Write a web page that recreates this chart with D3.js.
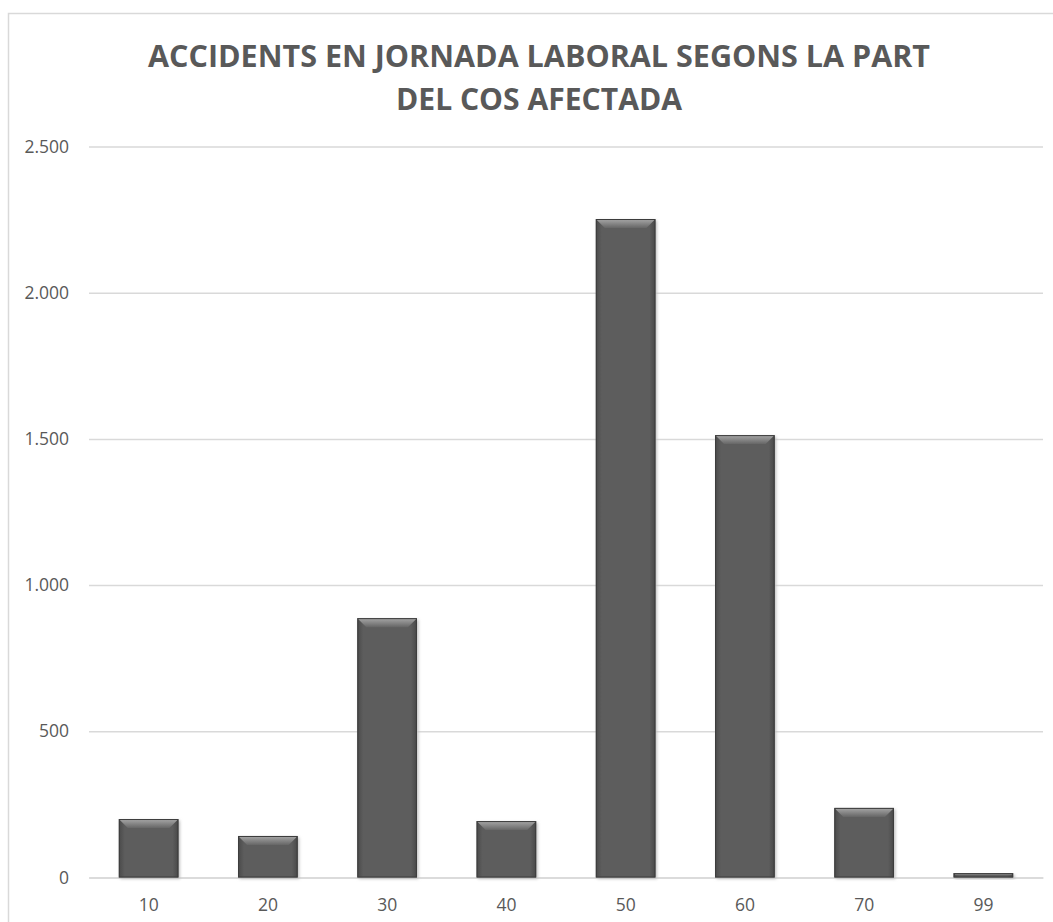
<!DOCTYPE html>
<html>
<head>
<meta charset="utf-8">
<script src="https://cdn.jsdelivr.net/npm/d3@7"></script>
<style>
  body { margin: 0; background: #fff; }
  text { font-family: "Open Sans", "DejaVu Sans", sans-serif; }
</style>
</head>
<body>
<div id="chart"></div>
<script>
// data
let categories = ["10", "20", "30", "40", "50", "60", "70", "99"];
let accidents = [200, 142, 887, 193, 2252, 1513, 238, 15];
let yTicks = [0, 500, 1000, 1500, 2000, 2500];
let titleLines = ["ACCIDENTS EN JORNADA LABORAL SEGONS LA PART", "DEL COS AFECTADA"];

let fullWidth = 1053;
let fullHeight = 922;
let margin = {top: 146.5, right: 10, bottom: 44.5, left: 89};
let width = fullWidth - margin.left - margin.right;
let height = fullHeight - margin.top - margin.bottom;

let locale = d3.formatLocale({decimal: ",", thousands: ".", grouping: [3], currency: ["", "€"]});
let fmt = locale.format(",d");

let svg = d3.select("#chart").append("svg")
    .attr("width", fullWidth)
    .attr("height", fullHeight);

let defs = svg.append("defs");

let sideGrad = defs.append("linearGradient")
    .attr("id", "sideGrad")
    .attr("x1", 0).attr("x2", 1).attr("y1", 0).attr("y2", 0);
sideGrad.append("stop").attr("offset", "0%").attr("stop-color", "#4a4a4a");
sideGrad.append("stop").attr("offset", "10%").attr("stop-color", "#5d5d5d");
sideGrad.append("stop").attr("offset", "90%").attr("stop-color", "#5d5d5d");
sideGrad.append("stop").attr("offset", "100%").attr("stop-color", "#484848");

let topGrad = defs.append("linearGradient")
    .attr("id", "topGrad")
    .attr("x1", 0).attr("x2", 0).attr("y1", 0).attr("y2", 1);
topGrad.append("stop").attr("offset", "0%").attr("stop-color", "#a8a8a8");
topGrad.append("stop").attr("offset", "100%").attr("stop-color", "#666666");

let shadow = defs.append("filter").attr("id", "shadow")
    .attr("x", "-20%").attr("y", "-20%").attr("width", "140%").attr("height", "140%");
shadow.append("feGaussianBlur").attr("stdDeviation", 1.5);

// chart frame
svg.append("rect")
    .attr("x", 8.5)
    .attr("y", 13.5)
    .attr("width", 1200)
    .attr("height", 1200)
    .attr("fill", "none")
    .attr("stroke", "#d9d9d9")
    .attr("stroke-width", 1.5);

svg.append("text")
    .attr("class", "title")
    .attr("text-anchor", "middle")
    .attr("fill", "#595959")
    .attr("font-weight", "bold")
    .attr("font-size", 30)
    .selectAll("tspan")
    .data(titleLines)
    .enter()
    .append("tspan")
        .attr("x", 539)
        .attr("y", function(d, i) { return 67 + i * 43; })
        .attr("textLength", function(d, i) { return i === 0 ? 782 : 286; })
        .attr("lengthAdjust", "spacingAndGlyphs")
        .text(function(d) { return d; });

let x = d3.scaleBand()
    .domain(categories)
    .range([0, width])
    .paddingInner(0.5)
    .paddingOuter(0.25);

let y = d3.scaleLinear()
    .domain([0, 2500])
    .range([height, 0]);

let g = svg.append("g")
    .attr("transform", "translate(" + margin.left + "," + margin.top + ")");

// gridlines + y labels
let yAxis = g.append("g")
    .attr("class", "y axis")
    .call(d3.axisLeft(y).tickValues(yTicks).tickSize(-width).tickPadding(20).tickFormat(fmt));
yAxis.select(".domain").remove();
yAxis.selectAll("line").attr("stroke", "#d9d9d9").attr("stroke-width", 1.5);
yAxis.selectAll("text")
    .attr("fill", "#595959")
    .attr("font-size", 17.5)
    .attr("font-family", "Open Sans, sans-serif");

let xAxis = g.append("g")
    .attr("class", "x axis")
    .attr("transform", "translate(0," + height + ")")
    .call(d3.axisBottom(x).tickSize(0).tickPadding(21));
xAxis.select(".domain").attr("stroke", "#d9d9d9").attr("stroke-width", 1.5);
xAxis.selectAll("text")
    .attr("fill", "#595959")
    .attr("font-size", 17.5)
    .attr("font-family", "Open Sans, sans-serif");

let bars = g.selectAll(".bar")
    .data(accidents)
    .enter()
    .append("g")
    .attr("class", "bar");

bars.append("rect")
    .attr("x", function(d, i) { return x(categories[i]) + 1.5; })
    .attr("y", function(d) { return y(d) + 1.5; })
    .attr("width", x.bandwidth())
    .attr("height", function(d) { return height - y(d); })
    .attr("fill", "#bfbfbf")
    .attr("filter", "url(#shadow)");

bars.append("rect")
    .attr("x", function(d, i) { return x(categories[i]); })
    .attr("y", function(d) { return y(d); })
    .attr("width", x.bandwidth())
    .attr("height", function(d) { return height - y(d); })
    .attr("fill", "url(#sideGrad)");

bars.append("polygon")
    .attr("points", function(d, i) {
        let x0 = x(categories[i]);
        let x1 = x0 + x.bandwidth();
        let y0 = y(d);
        let b = Math.min(9, (height - y0) / 2);
        return [[x0, y0], [x1, y0], [x1 - b, y0 + b], [x0 + b, y0 + b]].join(" ");
    })
    .attr("fill", "url(#topGrad)");

bars.append("rect")
    .attr("x", function(d, i) { return x(categories[i]) + 0.5; })
    .attr("y", function(d) { return y(d) + 0.5; })
    .attr("width", x.bandwidth() - 1)
    .attr("height", function(d) { return Math.max(0, height - y(d) - 1); })
    .attr("fill", "none")
    .attr("stroke", "#3c3c3c")
    .attr("stroke-width", 1);
</script>
</body>
</html>
